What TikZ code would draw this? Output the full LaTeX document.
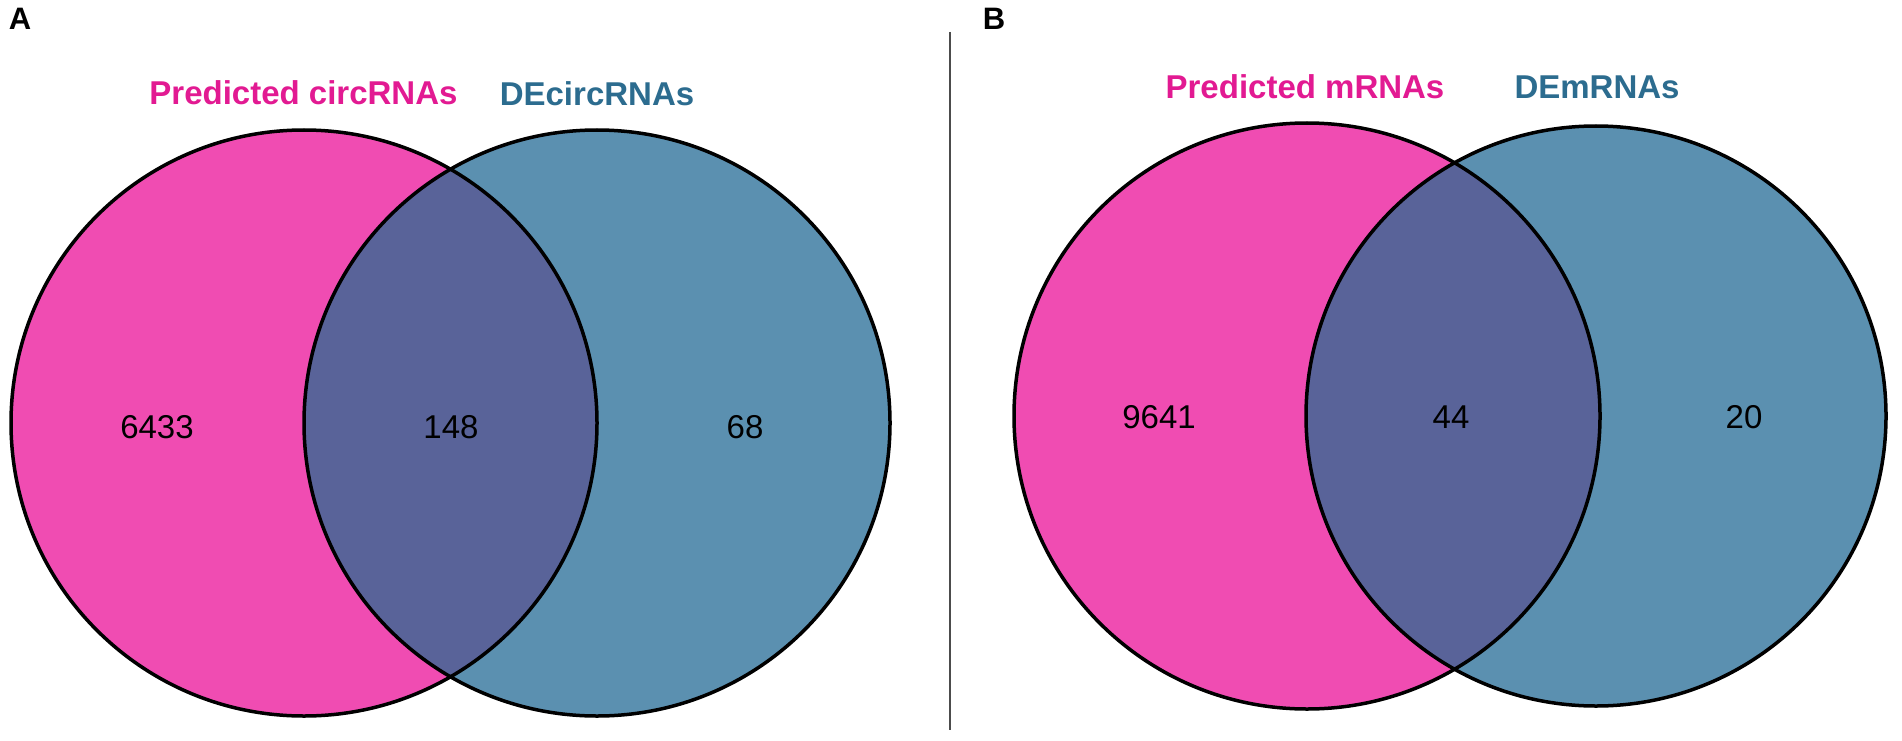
\documentclass[tikz,border=0pt]{standalone}
\usepackage{fontspec}
\setmainfont{Liberation Sans}
\definecolor{vpink}{RGB}{240,76,178}
\definecolor{vblue}{RGB}{91,144,176}
\definecolor{vover}{RGB}{89,99,153}
\definecolor{tpink}{RGB}{226,26,146}
\definecolor{tblue}{RGB}{44,108,143}
\begin{document}
\begin{tikzpicture}[x=1pt,y=-1pt,
  setlabel/.style={font=\fontsize{33}{38}\selectfont\bfseries, inner sep=0pt, anchor=center},
  countlabel/.style={font=\fontsize{33}{38}\selectfont, inner sep=0pt, anchor=center, text=black},
  panellabel/.style={font=\fontsize{31}{36}\selectfont\bfseries, inner sep=0pt, anchor=center},
  vennline/.style={draw=black, line width=3.5pt}]
\useasboundingbox (0,0) rectangle (1902,741);
\fill[white] (0,0) rectangle (1902,741);

% Panel A
\coordinate (pa) at (304,423);
\coordinate (ba) at (597,423);
\fill[vpink] (pa) circle[radius=293pt];
\fill[vblue] (ba) circle[radius=293pt];
\begin{scope}
  \clip (pa) circle[radius=293pt];
  \fill[vover] (ba) circle[radius=293pt];
\end{scope}
\draw[vennline] (pa) circle[radius=293pt];
\draw[vennline] (ba) circle[radius=293pt];

\node[panellabel] (labA) at (20,19) {A};
\node[setlabel, text=tpink] (setA1) at (303.5,93) {Predicted circRNAs};
\node[setlabel, text=tblue] (setA2) at (597,94) {DEcircRNAs};
\node[countlabel] (cA1) at (157,427) {6433};
\node[countlabel] (cA2) at (451,427) {148};
\node[countlabel] (cA3) at (745,427) {68};

% divider
\coordinate (d1) at (950,32);
\coordinate (d2) at (950,730);
\draw[line width=2pt, color=black!70] (d1) -- (d2);

% Panel B
\coordinate (pb) at (1307,416);
\coordinate (bb) at (1596,416);
\fill[vpink] (pb) circle[radius=293pt];
\fill[vblue] (bb) circle[radius=290pt];
\begin{scope}
  \clip (pb) circle[radius=293pt];
  \fill[vover] (bb) circle[radius=290pt];
\end{scope}
\draw[vennline] (pb) circle[radius=293pt];
\draw[vennline] (bb) circle[radius=290pt];

\node[panellabel] (labB) at (994,19) {B};
\node[setlabel, text=tpink] (setB1) at (1305,87) {Predicted mRNAs};
\node[setlabel, text=tblue] (setB2) at (1597,87) {DEmRNAs};
\node[countlabel] (cB1) at (1159,417) {9641};
\node[countlabel] (cB2) at (1451,417) {44};
\node[countlabel] (cB3) at (1744,417) {20};
\end{tikzpicture}
\end{document}
